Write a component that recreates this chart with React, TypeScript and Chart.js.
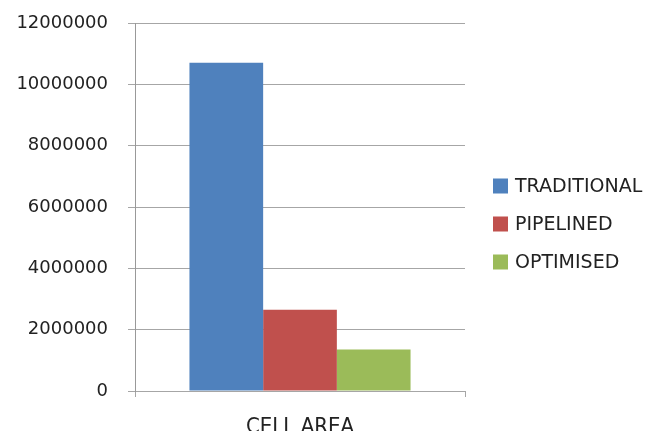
import React, { useEffect, useRef } from "react";
import { Chart, registerables } from "chart.js";

Chart.register(...registerables);

const categories = ["CELL AREA"];
const seriesNames = ["TRADITIONAL", "PIPELINED", "OPTIMISED"];
const traditional = [10700000];
const pipelined = [2650000];
const optimised = [1350000];
const seriesColors = ["#4f81bd", "#c0504d", "#9bbb59"];
const yTicks = [0, 2000000, 4000000, 6000000, 8000000, 10000000, 12000000];

const FONT = "'DejaVu Sans', sans-serif";
const GRID = "#a6a6a6";

// Legend drawn to the right of the plot area, one row per dataset.
const sideLegend = {
  id: "sideLegend",
  afterDraw(chart: any) {
    const { ctx, chartArea } = chart;
    const datasets = chart.data.datasets;
    const rowGap = 38;
    const box = 15;
    const x = chartArea.right + 28;
    const midY = (chartArea.top + chartArea.bottom) / 2 + 17;
    const startY = midY - ((datasets.length - 1) * rowGap) / 2;
    ctx.save();
    ctx.font = `19px ${FONT}`;
    ctx.textBaseline = "middle";
    ctx.textAlign = "left";
    datasets.forEach((ds: any, i: number) => {
      const cy = startY + i * rowGap;
      ctx.fillStyle = ds.backgroundColor;
      ctx.fillRect(x, cy - box / 2, box, box);
      ctx.fillStyle = "#222";
      ctx.fillText(ds.label, x + box + 7, cy + 1);
    });
    ctx.restore();
  },
};

export default function App() {
  const ref = useRef<HTMLCanvasElement | null>(null);

  useEffect(() => {
    if (!ref.current) return;
    const values = [traditional, pipelined, optimised];
    const chart = new Chart(ref.current, {
      type: "bar",
      data: {
        labels: categories,
        datasets: seriesNames.map((name, i) => ({
          label: name,
          data: values[i],
          backgroundColor: seriesColors[i],
          borderWidth: 0,
          categoryPercentage: 0.67,
          barPercentage: 1,
        })),
      },
      options: {
        responsive: false,
        animation: false,
        layout: { padding: { top: 23, right: 183, left: 0, bottom: 0 } },
        plugins: {
          legend: { display: false },
          tooltip: { enabled: false },
        },
        scales: {
          x: {
            afterFit(scale: any) {
              scale.height = 40;
            },
            grid: {
              display: true,
              drawOnChartArea: false,
              drawTicks: true,
              tickLength: 6,
              color: GRID,
            },
            border: { display: true, color: GRID },
            ticks: {
              padding: 17,
              color: "#222",
              font: { family: "'DejaVu Sans Condensed', 'DejaVu Sans', sans-serif", size: 22 },
            },
          },
          y: {
            min: 0,
            max: 12000000,
            afterFit(scale: any) {
              scale.width = 135;
              scale.paddingTop = 0;
              scale.paddingBottom = 0;
            },
            afterBuildTicks(scale: any) {
              scale.ticks = yTicks.map((v) => ({ value: v }));
            },
            grid: {
              color: GRID,
              tickLength: 7,
            },
            border: { display: true, color: "#999" },
            ticks: {
              padding: 20,
              color: "#222",
              font: { family: FONT, size: 18 },
              callback: (v: any) => String(v),
            },
          },
        },
      },
      plugins: [sideLegend],
    });
    return () => chart.destroy();
  }, []);

  return (
    <div style={{ position: "absolute", left: 0, top: 0, width: 648, height: 431, background: "#fff" }}>
      <canvas ref={ref} width={648} height={431} />
    </div>
  );
}
